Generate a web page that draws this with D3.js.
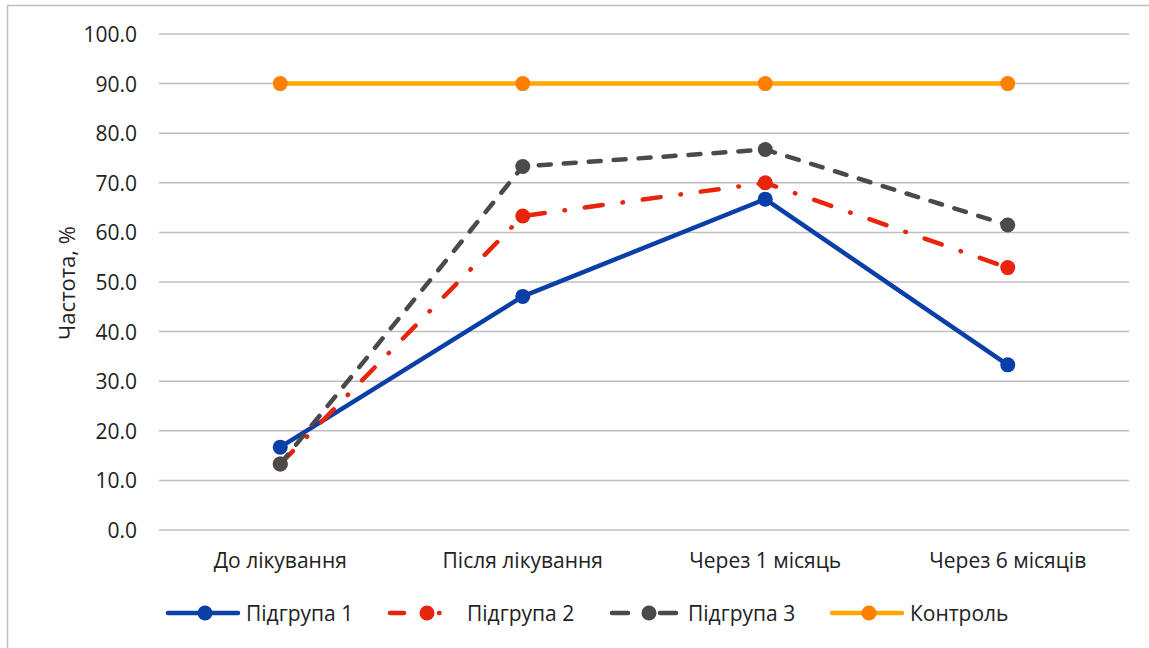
<!DOCTYPE html>
<html><head><meta charset="utf-8">
<script src="https://cdn.jsdelivr.net/npm/d3@7"></script>
<style>body{margin:0;background:#fff}svg{display:block}text{font-family:"Open Sans","Noto Sans",sans-serif;fill:#222}</style>
</head><body><svg id="c" width="1149" height="648"></svg>
<script>
const categories = ["До лікування","Після лікування","Через 1 місяць","Через 6 місяців"];
const sub1 = [16.7, 47.1, 66.7, 33.3];
const sub2 = [13.3, 63.3, 70.0, 52.9];
const sub3 = [13.3, 73.3, 76.7, 61.5];
const control = [90.0, 90.0, 90.0, 90.0];
const seriesNames = ["Підгрупа 1","Підгрупа 2","Підгрупа 3","Контроль"];
const yTicks = [0,10,20,30,40,50,60,70,80,90,100];
const yTitle = "Частота, %";

const series = [
  {name: seriesNames[0], values: sub1, color: "#0A3FA8", marker: "#0A3FA8", dash: null, legDash: null},
  {name: seriesNames[1], values: sub2, color: "#E8240C", marker: "#E8240C", dash: "18,20,0.5,20", legDash: "14,35,0.5,60"},
  {name: seriesNames[2], values: sub3, color: "#4A4A4A", marker: "#4A4A4A", dash: "12,13", legDash: "16,32,16,100"},
  {name: seriesNames[3], values: control, color: "#FFA500", marker: "#FF7F00", dash: null, legDash: null}
];

const svg = d3.select("#c");
svg.append("rect").attr("x",7.5).attr("y",5.5).attr("width",1200).attr("height",700)
  .attr("fill","none").attr("stroke","#BFBFBF").attr("stroke-width",1.5);

const L=159, R=1129, T=34, B=530;
const x = d3.scaleBand().domain(categories).range([L,R]);
const y = d3.scaleLinear().domain([0,100]).range([B,T]);
const FS = "21px";

const g = svg.append("g");
g.selectAll("line.grid").data(yTicks).join("line")
  .attr("x1",L).attr("x2",R).attr("y1",d=>y(d)).attr("y2",d=>y(d))
  .attr("stroke","#BFBFBF").attr("stroke-width",1.5);

const yAxis = d3.axisLeft(y).tickValues(yTicks).tickFormat(d3.format(".1f")).tickSize(0).tickPadding(0);
const ya = svg.append("g").attr("transform",`translate(${137},0)`).call(yAxis);
ya.select(".domain").remove();
ya.selectAll("text").style("font-size",FS).attr("fill","#222").attr("dy","0.36em").style("font-family","'Open Sans',sans-serif");

const xAxis = d3.axisBottom(x).tickSize(0).tickPadding(0);
const xa = svg.append("g").attr("transform",`translate(0,${560})`).call(xAxis);
xa.select(".domain").remove();
xa.selectAll("text").style("font-size",FS).attr("fill","#222").attr("y",0).attr("dy","0.36em").style("font-family","'Open Sans',sans-serif");

svg.append("text").attr("transform",`translate(67,${283}) rotate(-90)`).attr("text-anchor","middle")
  .attr("dy","0.36em").style("font-size","22px").text(yTitle);

const line = d3.line().x((d,i)=>x(categories[i])+x.bandwidth()/2).y(d=>y(d));
const order = [3,0,1,2];
order.forEach(k=>{
  const s = series[k];
  const sg = svg.append("g");
  sg.append("path").attr("d",line(s.values)).attr("fill","none").attr("stroke",s.color)
    .attr("stroke-width",4.5).attr("stroke-linecap","round").attr("stroke-linejoin","round")
    .attr("stroke-dasharray",s.dash);
  sg.selectAll("circle").data(s.values).join("circle")
    .attr("cx",(d,i)=>x(categories[i])+x.bandwidth()/2).attr("cy",d=>y(d)).attr("r",7.5)
    .attr("fill",s.marker);
});

// legend
const legX = [168, 390, 612, 832];
const legTextX = [246, 467, 688, 910];
const ly = 613;
series.forEach((s,i)=>{
  const lg = svg.append("g");
  lg.append("line").attr("x1",legX[i]).attr("x2",legX[i]+70).attr("y1",ly).attr("y2",ly)
    .attr("stroke",s.color).attr("stroke-width",4.5).attr("stroke-linecap","round")
    .attr("stroke-dasharray", s.legDash);
  lg.append("circle").attr("cx",legX[i]+37).attr("cy",ly).attr("r",7.5).attr("fill",s.marker);
  lg.append("text").attr("x",legTextX[i]).attr("y",ly).attr("dy","0.36em").style("font-size",FS).text(s.name);
});
</script></body></html>
